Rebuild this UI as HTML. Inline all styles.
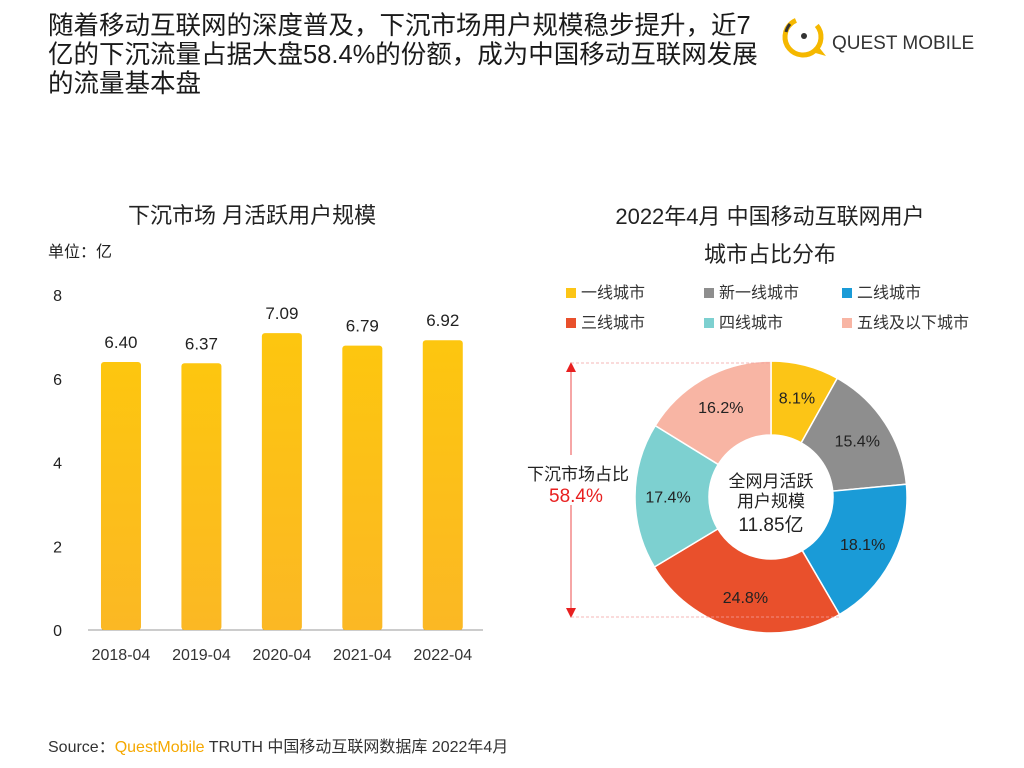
<!DOCTYPE html>
<html><head><meta charset="utf-8">
<style>
body{margin:0;width:1024px;height:768px;background:#fff;font-family:"Liberation Sans","Noto Sans CJK SC",sans-serif;overflow:hidden;position:relative;color:#222}
.abs{position:absolute}
</style></head><body>
<div class="abs" style="left:48px;top:12px;width:760px;font-size:25.5px;line-height:29px;color:#1a1a1a;white-space:nowrap">随着移动互联网的深度普及，下沉市场用户规模稳步提升，近7<br>亿的下沉流量占据大盘58.4%的份额，成为中国移动互联网发展<br>的流量基本盘</div>
<div class="abs" style="left:778px;top:12px;width:240px;height:50px">
<svg width="60" height="50" style="position:absolute;left:0;top:0"><circle cx="25" cy="25" r="18" fill="none" stroke="#f5b800" stroke-width="5" stroke-dasharray="90 30" transform="rotate(-40 25 25)"/><path d="M34 40 L48 44 L40 34 Z" fill="#f5b800"/><circle cx="26" cy="24" r="3" fill="#333"/><path d="M12 12 A18 18 0 0 0 8 20" stroke="#333" stroke-width="3" fill="none"/></svg>
<span style="position:absolute;left:54px;top:21px;font-size:19px;color:#333">QUEST MOBILE</span></div>
<div class="abs" style="left:128px;top:198px;font-size:22px">下沉市场 月活跃用户规模</div>
<div class="abs" style="left:48px;top:238px;font-size:16px">单位：亿</div>
<div class="abs" style="left:560px;top:198px;width:420px;text-align:center;font-size:22px;line-height:38px">2022年4月 中国移动互联网用户<br>城市占比分布</div>
<svg id="bar" class="abs" style="left:0;top:0" width="520" height="700"></svg>
<svg id="donut" class="abs" style="left:500px;top:270px" width="524" height="400"></svg>
<div class="abs" style="left:48px;top:733px;font-size:16px;color:#333">Source：<span style="color:#f5a800">QuestMobile</span> TRUTH 中国移动互联网数据库 2022年4月</div>
<script>
const categories=["2018-04","2019-04","2020-04","2021-04","2022-04"];
const values=[6.40,6.37,7.09,6.79,6.92];
const yTicks=[0,2,4,6,8];
const sliceNames=["一线城市","新一线城市","二线城市","三线城市","四线城市","五线及以下城市"];
const sliceValues=[8.1,15.4,18.1,24.8,17.4,16.2];
const sliceColors=["#fcc516","#8e8e8e","#1a9bd7","#e9502c","#7dd0d0","#f8b5a4"];
const NS="http://www.w3.org/2000/svg";
function mk(p,t,a){const e=document.createElementNS(NS,t);for(const k in a)e.setAttribute(k,a[k]);p.appendChild(e);return e;}
const bar=document.getElementById('bar');
const y0=630,yTop=295,xL=80.75,xR=483;
const y=v=>y0-(v/8)*(y0-yTop);
const bw=(xR-xL)/categories.length;
const x=i=>xL+bw*(i+0.5);
const defs=mk(bar,'defs',{});
const g=mk(defs,'linearGradient',{id:'bg',x1:0,y1:0,x2:0,y2:1});
mk(g,'stop',{offset:0,'stop-color':'#fdc60f'});mk(g,'stop',{offset:1,'stop-color':'#fbb824'});
mk(bar,'line',{x1:88,x2:xR,y1:y0,y2:y0,stroke:'#999','stroke-width':1});
yTicks.forEach(t=>{const tx=mk(bar,'text',{x:62,y:y(t)+6,'text-anchor':'end','font-size':16,fill:'#222'});tx.textContent=t;

});
values.forEach((v,i)=>{const r=mk(bar,'rect',{x:x(i)-20,y:y(v),width:40,height:y0-y(v),fill:'url(#bg)',rx:3});


const t=mk(bar,'text',{x:x(i),y:y(v)-14,'text-anchor':'middle','font-size':17,fill:'#222'});t.textContent=v.toFixed(2);


const c=mk(bar,'text',{x:x(i),y:660,'text-anchor':'middle','font-size':16,fill:'#333'});c.textContent=categories[i];

});
const d=document.getElementById('donut');
sliceNames.forEach((n,i)=>{const col=i%3,row=Math.floor(i/3);const lx=66+col*138,ly=24+row*30;
const r=mk(d,'rect',{x:lx,y:ly-6,width:10,height:10,fill:sliceColors[i]});


const t=mk(d,'text',{x:lx+15,y:ly+4,'font-size':16,fill:'#333'});t.textContent=n;

});
const cx=271,cy=227,R=136,r0=62;
const total=sliceValues.reduce((a,b)=>a+b,0);let a=-Math.PI/2;
const pt=(rad,ang)=>[cx+rad*Math.cos(ang),cy+rad*Math.sin(ang)];
sliceValues.forEach((v,i)=>{const a2=a+v/total*2*Math.PI;const lg=a2-a>Math.PI?1:0;
const [x1,y1]=pt(R,a),[x2,y2]=pt(R,a2),[x3,y3]=pt(r0,a2),[x4,y4]=pt(r0,a);
const p=mk(d,'path',{d:`M${x1} ${y1}A${R} ${R} 0 ${lg} 1 ${x2} ${y2}L${x3} ${y3}A${r0} ${r0} 0 ${lg} 0 ${x4} ${y4}Z`,fill:sliceColors[i],stroke:'#fff','stroke-width':1.5});


const m=(a+a2)/2;const [lx,ly]=pt((R+r0)/2+4,m);
const t=mk(d,'text',{x:lx,y:ly+6,'text-anchor':'middle','font-size':16,fill:'#222'});t.textContent=v.toFixed(1)+'%';


a=a2;});
[['全网月活跃',cy-10],['用户规模',cy+10],['11.85亿',cy+34]].forEach(([s,yy],k)=>{const t=mk(d,'text',{x:cx,y:yy,'text-anchor':'middle','font-size':k==2?19:17,fill:'#222'});t.textContent=s;

});
mk(d,'line',{x1:71,x2:71,y1:100,y2:185,stroke:'#e82020','stroke-width':0.8});
mk(d,'line',{x1:71,x2:71,y1:235,y2:340,stroke:'#e82020','stroke-width':0.8});
mk(d,'path',{d:'M66 102L71 92L76 102Z',fill:'#e82020'});
mk(d,'path',{d:'M66 338L71 348L76 338Z',fill:'#e82020'});
mk(d,'line',{x1:71,x2:271,y1:93,y2:93,stroke:'#f4a0a0','stroke-dasharray':'3 2','stroke-width':0.8});
mk(d,'line',{x1:71,x2:340,y1:347,y2:347,stroke:'#f4a0a0','stroke-dasharray':'3 2','stroke-width':0.8});
const b1=mk(d,'text',{x:27,y:210,'font-size':17,fill:'#222'});b1.textContent='下沉市场占比';


const b2=mk(d,'text',{x:49,y:232,'font-size':19,fill:'#e82020'});b2.textContent='58.4%';


</script>
</body></html>
